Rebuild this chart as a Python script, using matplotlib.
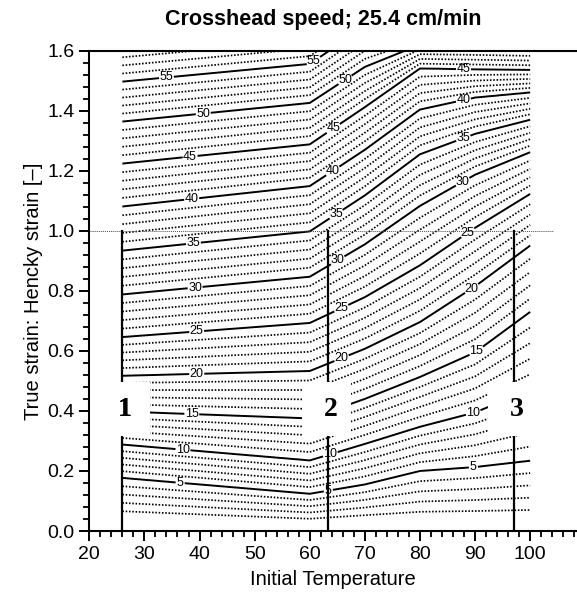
import numpy as np
import matplotlib.pyplot as plt
from matplotlib.patches import Rectangle
from matplotlib.ticker import MultipleLocator

plt.rcParams['font.family'] = ['Liberation Sans', 'DejaVu Sans']

# stress levels and the true strain where each one sits at a given temperature
stress_levels = [0, 5, 10, 15, 20, 25, 30, 35, 40, 45, 50, 55, 60]
temp_nodes = [26, 60, 70, 80, 90, 100]
strain_t26 = [0.038, 0.177, 0.288, 0.398, 0.517, 0.646, 0.788, 0.934, 1.081, 1.224, 1.364, 1.497, 1.632]
strain_t60 = [0.020, 0.124, 0.235, 0.375, 0.533, 0.693, 0.847, 0.998, 1.149, 1.288, 1.426, 1.556, 1.686]
strain_t70 = [0.027, 0.155, 0.290, 0.440, 0.607, 0.779, 0.955, 1.118, 1.270, 1.412, 1.546, 1.680, 1.800]
strain_t80 = [0.030, 0.200, 0.347, 0.513, 0.696, 0.885, 1.083, 1.255, 1.404, 1.541, 1.620, 1.700, 1.780]
strain_t90 = [0.030, 0.213, 0.395, 0.595, 0.815, 1.010, 1.187, 1.323, 1.444, 1.538, 1.618, 1.700, 1.780]
strain_t100 = [0.029, 0.234, 0.470, 0.730, 0.951, 1.123, 1.262, 1.370, 1.461, 1.536, 1.614, 1.690, 1.770]

# where the contour values are written
label_pos = [(36.5, 0.165), (37, 0.27), (38.6, 0.392), (39.5, 0.519), (39.5, 0.66),
             (39.2, 0.809), (38.9, 0.955), (38.6, 1.10), (38.3, 1.245), (40.7, 1.386),
             (34, 1.511),
             (60.7, 1.565), (66.4, 1.503), (64.3, 1.34), (64.3, 1.195), (64.9, 1.051),
             (65.2, 0.896), (65.8, 0.738), (65.8, 0.574), (63.8, 0.25), (63.4, 0.131),
             (87.9, 1.536), (87.9, 1.434), (87.9, 1.306), (87.9, 1.157), (88.7, 0.992),
             (89.4, 0.807), (90.3, 0.597), (89.7, 0.392), (89.7, 0.212)]

# section markers
section_x = [26, 63.3, 97]
section_names = ['1', '2', '3']

# build the stress field on a fine grid
cols = np.array([strain_t26, strain_t60, strain_t70, strain_t80, strain_t90, strain_t100])
temp = np.linspace(26, 100, 371)
strain = np.linspace(0, 1.6, 401)
Z = np.empty((len(strain), len(temp)))
for j, t in enumerate(temp):
    pos = [np.interp(t, temp_nodes, cols[:, k]) for k in range(len(stress_levels))]
    Z[:, j] = np.interp(strain, pos, stress_levels)

fig = plt.figure(figsize=(5.77, 6.0), dpi=100)
ax = fig.add_axes([0.1548, 0.115, 0.8452, 0.8005])

dotted = [v for v in range(1, 60) if v % 5]
solid = list(range(5, 60, 5))
cd = ax.contour(temp, strain, Z, levels=dotted, colors='k', linewidths=1.25)
cd.set_linestyle((0, (0.9, 1.0)))
cs = ax.contour(temp, strain, Z, levels=solid, colors='k', linewidths=1.4)
labels = ax.clabel(cs, fmt='%d', fontsize=9, manual=label_pos, inline_spacing=2)
for t in labels:
    t.set_rotation(0)

ax.plot([20, 104.2], [1.0, 1.0], color='0.3', lw=0.7, ls=(0, (1, 1)), zorder=2.4)

serif = ['Liberation Serif', 'DejaVu Serif']
for x, name in zip(section_x, section_names):
    ax.plot([x, x], [0, 1.0], color='k', lw=1.6, zorder=2.5)
    ax.add_patch(Rectangle((x - 4.7, 0.318), 8.8, 0.18, facecolor='white',
                           edgecolor='none', zorder=3))
    ax.text(x + 0.5, 0.404, name, family=serif, fontweight='bold', fontsize=20,
            ha='center', va='center', zorder=4)
# the first marker's panel reaches back to the axis
ax.add_patch(Rectangle((20.5, 0.318), 10.6, 0.18, facecolor='white', edgecolor='none', zorder=3))
ax.text(26.5, 0.404, '1', family=serif, fontweight='bold', fontsize=20,
        ha='center', va='center', zorder=4)

ax.set_xlim(20, 108.5)
ax.set_ylim(0, 1.6)
ax.xaxis.set_major_locator(MultipleLocator(10))
ax.xaxis.set_minor_locator(MultipleLocator(2))
ax.yaxis.set_major_locator(MultipleLocator(0.2))
ax.yaxis.set_minor_locator(MultipleLocator(0.04))
ax.yaxis.set_major_formatter(lambda v, p: f'{v:.1f}')
ax.tick_params(which='major', direction='out', length=7, width=1.4, labelsize=14)
ax.tick_params(which='minor', direction='out', length=4, width=1.3)
ax.spines['right'].set_visible(False)
for s in ['left', 'bottom', 'top']:
    ax.spines[s].set_linewidth(1.5)

ax.set_xlabel('Initial Temperature', fontsize=14.5, labelpad=5)
ax.set_ylabel('True strain: Hencky strain [–]', fontsize=14.5, labelpad=3)
fig.text(0.56, 0.968, 'Crosshead speed; 25.4 cm/min', ha='center', va='center',
         fontsize=15.5, fontweight='bold')

fig.savefig('out.png', dpi=100)
